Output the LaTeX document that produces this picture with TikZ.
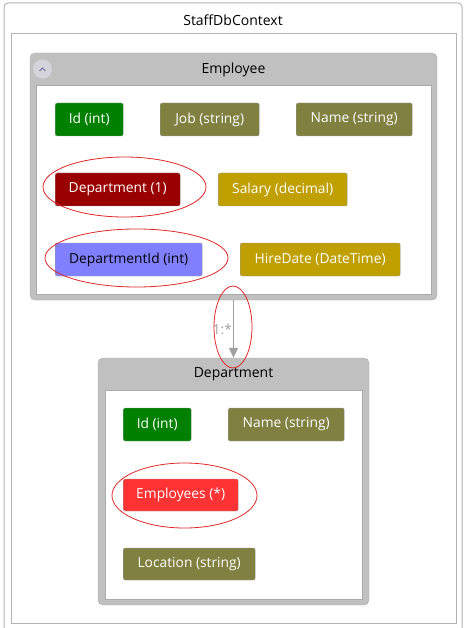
\documentclass[tikz,border=0pt]{standalone}
\usepackage{fontspec}
\setmainfont{Open Sans}
\usepackage{xcolor}
\usetikzlibrary{arrows.meta, shapes.geometric}

\definecolor{keygreen}{HTML}{008000}
\definecolor{strolive}{HTML}{808040}
\definecolor{navred}{HTML}{990000}
\definecolor{numgold}{HTML}{C0A000}
\definecolor{fkblue}{HTML}{8080FF}
\definecolor{collred}{HTML}{FF3333}
\definecolor{framegray}{HTML}{C0C0C0}
\definecolor{frameedge}{HTML}{AAAAAA}
\definecolor{ctxedge}{HTML}{B4B4B4}
\definecolor{propedge}{HTML}{9A9A9A}
\definecolor{ringred}{HTML}{E02828}
\definecolor{relgray}{HTML}{A0A0A0}
\definecolor{btnfill}{HTML}{D4D4DA}
\definecolor{btnmark}{HTML}{6A6AA0}

\tikzset{
  prop/.style={draw=propedge, rounded corners=2pt, minimum height=33pt, inner sep=0pt,
    text=white, anchor=west, font=\fontsize{13.8}{16}\selectfont},
  entity/.style={draw=frameedge, fill=framegray, rounded corners=5pt},
  body/.style={draw=frameedge, fill=white},
  heading/.style={font=\fontsize{14}{16}\selectfont, text=black},
  ring/.style={draw=ringred, line width=0.8pt, ellipse, inner sep=0pt},
  relation/.style={draw=relgray, line width=1.2pt, -{Triangle[width=9pt,length=10pt]}},
}

\begin{document}
\begin{tikzpicture}[x=1pt,y=-1pt]
\useasboundingbox (0,0) rectangle (467,628);
% context
\draw[ctxedge, line width=1pt, rounded corners=4pt] (4,3) rectangle (462,640);
\node[heading] (ctx) at (233,20) {StaffDbContext};
\draw[ctxedge, line width=1pt] (11,34) rectangle (456,623);

% Employee
\node[entity, minimum width=407pt, minimum height=247pt] (emp) at (233.5,176.5) {};
\draw[body] (36,85) rectangle (431,294);
\node[heading] (empname) at (233.5,70) {Employee};
\node[circle, fill=btnfill, minimum size=19pt, inner sep=0pt] (collapse) at (42.5,69) {};
\draw[btnmark, line width=1pt] (39.5,71) -- (42.5,68) -- (45.5,71);

\node[prop, fill=keygreen, minimum width=68pt] (empid) at (55,119.5) {Id (int)};
\node[prop, fill=strolive, minimum width=99pt] (empjob) at (160,119.5) {Job (string)};
\node[prop, fill=strolive, minimum width=116pt] (empname2) at (296,119.5) {Name (string)};
\node[prop, fill=navred, minimum width=125pt] (empdept) at (55,189.5) {Department (1)};
\node[prop, fill=numgold, minimum width=129pt] (empsal) at (218,189.5) {Salary (decimal)};
\node[prop, fill=fkblue, text=black, minimum width=147pt] (empdeptid) at (55,259.5) {DepartmentId (int)};
\node[prop, fill=numgold, minimum width=160pt] (emphire) at (240,259.5) {HireDate (DateTime)};

% Department
\node[entity, minimum width=271pt, minimum height=247pt] (dep) at (233.5,481.5) {};
\draw[body] (105,390) rectangle (362,599);
\node[heading] (depname) at (233.5,374) {Department};

\node[prop, fill=keygreen, minimum width=68pt] (depid) at (123,424.5) {Id (int)};
\node[prop, fill=strolive, minimum width=116pt] (depname2) at (228,424.5) {Name (string)};
\node[prop, fill=collred, minimum width=115pt, minimum height=32pt] (depemps) at (123,495) {Employees (*)};
\node[prop, fill=strolive, minimum width=132pt, minimum height=32pt] (deploc) at (123,564) {Location (string)};

% relation
\draw[relation] (emp.south) -- (dep.north)
  node[pos=0.5, left, inner sep=1pt, text=relgray, font=\fontsize{13.8}{16}\selectfont] (mult) {1:*};

% highlights
\node[ring, minimum width=163pt, minimum height=60pt] (ringdept) at (124.5,187) {};
\node[ring, minimum width=183pt, minimum height=58pt] (ringdeptid) at (136.5,258) {};
\node[ring, minimum width=38pt, minimum height=82pt] (ringrel) at (233,327) {};
\node[ring, minimum width=145pt, minimum height=65pt] (ringemps) at (184.5,495.5) {};
\end{tikzpicture}
\end{document}
